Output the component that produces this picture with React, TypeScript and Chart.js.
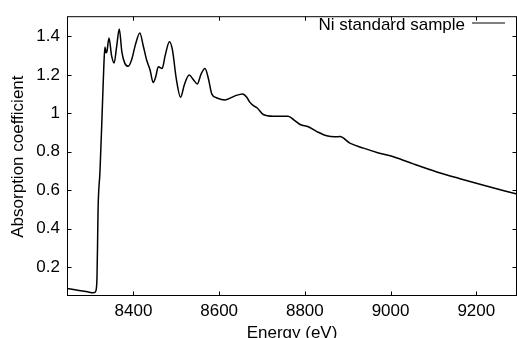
import React, { useEffect, useRef } from 'react';
import { Chart, registerables } from 'chart.js';

Chart.register(...registerables);

const energy = [
  8245, 8270, 8290, 8303, 8309, 8312.7, 8315, 8316.5, 8317.5, 8322, 8327, 8331, 8333.5,
  8336, 8338, 8343, 8349, 8355, 8361, 8367, 8373, 8380, 8388, 8396, 8405, 8415, 8423,
  8431, 8439, 8446, 8452, 8458, 8467, 8474, 8484, 8491, 8500, 8510, 8519, 8530, 8540,
  8549, 8558, 8567, 8575, 8583, 8595, 8614, 8637, 8655, 8664, 8672, 8680, 8689, 8703,
  8726, 8761, 8775, 8789, 8808, 8828, 8851, 8870, 8882, 8905, 8937, 8972, 9010, 9053,
  9108, 9162, 9217, 9295,
];
const absorption = [
  0.089, 0.08, 0.073, 0.067, 0.068, 0.079, 0.15, 0.35, 0.5, 0.7, 1.0, 1.25, 1.345,
  1.315, 1.32, 1.392, 1.3, 1.262, 1.35, 1.438, 1.32, 1.26, 1.245, 1.28, 1.36, 1.418, 1.35,
  1.276, 1.224, 1.16, 1.19, 1.242, 1.233, 1.3, 1.372, 1.33, 1.18, 1.084, 1.15, 1.199, 1.175,
  1.153, 1.205, 1.233, 1.18, 1.1, 1.08, 1.07, 1.091, 1.101, 1.085, 1.057, 1.04, 1.028, 0.994,
  0.985, 0.985, 0.965, 0.942, 0.93, 0.905, 0.883, 0.878, 0.879, 0.845, 0.819, 0.794, 0.772, 0.737,
  0.695, 0.66, 0.626, 0.58,
];
const xTicks = [8400, 8600, 8800, 9000, 9200];
const yTicks = [0.2, 0.4, 0.6, 0.8, 1, 1.2, 1.4];
const seriesLabel = 'Ni standard sample';
const xTitle = 'Energy (eV)';
const yTitle = 'Absorption coefficient';

const FONT = "'Liberation Sans', Arial, Helvetica, sans-serif";

export default function App() {
  const ref = useRef<HTMLCanvasElement>(null);

  useEffect(() => {
    document.body.style.margin = '0';
    if (!ref.current) return;

    const framePlugin = {
      id: 'frameTicksLegend',
      afterDraw(chart: any) {
        const { ctx, chartArea: a, scales } = chart;
        ctx.save();
        ctx.strokeStyle = '#000';
        ctx.lineWidth = 1;
        const L = a.left + 0.5;
        const T = a.top - 0.5;
        const R = a.right - 0.5;
        const B = a.bottom - 0.5;
        ctx.strokeRect(L, T, R - L, B - T);
        const tl = 4;
        ctx.beginPath();
        for (const v of xTicks) {
          const px = Math.round(scales.x.getPixelForValue(v)) + 0.5;
          ctx.moveTo(px, B);
          ctx.lineTo(px, B - tl);
          ctx.moveTo(px, T);
          ctx.lineTo(px, T + tl);
        }
        for (const v of yTicks) {
          const py = Math.round(scales.y.getPixelForValue(v)) + 0.5;
          ctx.moveTo(L, py);
          ctx.lineTo(L + tl, py);
          ctx.moveTo(R, py);
          ctx.lineTo(R - tl, py);
        }
        ctx.stroke();
        // legend: text then line sample
        const label = chart.data.datasets[0].label;
        ctx.font = `17px ${FONT}`;
        ctx.fillStyle = '#000';
        ctx.textAlign = 'right';
        ctx.textBaseline = 'alphabetic';
        ctx.fillText(label, 465, 30);
        ctx.beginPath();
        ctx.lineWidth = 1.2;
        ctx.moveTo(472, 23);
        ctx.lineTo(505, 23);
        ctx.stroke();
        ctx.restore();
      },
    };

    const chart = new Chart(ref.current, {
      type: 'line',
      data: {
        datasets: [
          {
            label: seriesLabel,
            data: energy.map((x, i) => ({ x, y: absorption[i] })),
            borderColor: '#000',
            borderWidth: 1.5,
            pointRadius: 0,
            fill: false,
            cubicInterpolationMode: 'monotone',
          },
        ],
      },
      options: {
        responsive: false,
        animation: false,
        layout: { padding: { top: 13, right: 0, bottom: 0, left: 0 } },
        plugins: { legend: { display: false }, tooltip: { enabled: false } },
        scales: {
          x: {
            type: 'linear',
            min: 8245,
            max: 9295,
            grid: { display: false, drawTicks: false, tickLength: 0 },
            border: { display: false },
            afterBuildTicks: (s: any) => {
              s.ticks = xTicks.map((v) => ({ value: v }));
            },
            afterFit: (s: any) => {
              s.height = 42;
            },
            ticks: {
              color: '#000',
              padding: 5,
              maxRotation: 0,
              autoSkip: false,
              font: { family: FONT, size: 17 },
              callback: (v: any) => String(v),
            },
            title: {
              display: true,
              text: xTitle,
              color: '#000',
              font: { family: FONT, size: 17, lineHeight: 1 },
              padding: { top: 0, bottom: -4 },
            },
          },
          y: {
            type: 'linear',
            min: 0.05,
            max: 1.5,
            grid: { display: false, drawTicks: false, tickLength: 0 },
            border: { display: false },
            afterBuildTicks: (s: any) => {
              s.ticks = yTicks.map((v) => ({ value: v }));
            },
            afterFit: (s: any) => {
              s.width = 67;
            },
            ticks: {
              color: '#000',
              padding: 7,
              autoSkip: false,
              font: { family: FONT, size: 17 },
              callback: (v: any) => String(Math.round(v * 10) / 10),
            },
            title: {
              display: true,
              text: yTitle,
              color: '#000',
              font: { family: FONT, size: 17, lineHeight: 1 },
              padding: { top: 10, bottom: 0 },
            },
          },
        },
      },
      plugins: [framePlugin],
    } as any);

    return () => chart.destroy();
  }, []);

  return (
    <canvas
      ref={ref}
      width={517}
      height={338}
      style={{ display: 'block', width: 517, height: 338 }}
    />
  );
}
